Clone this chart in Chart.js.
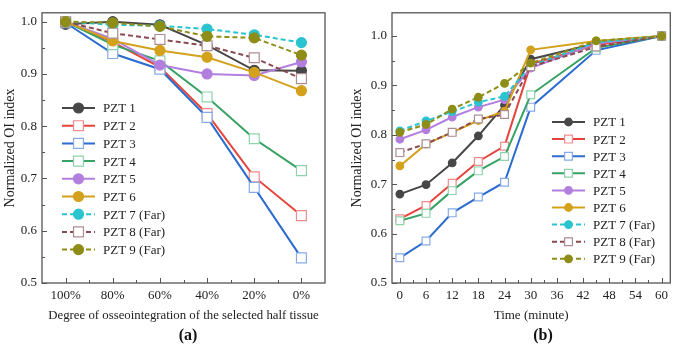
<!DOCTYPE html>
<html>
<head>
<meta charset="utf-8">
<script src="https://cdn.jsdelivr.net/npm/chart.js@4.4.1/dist/chart.umd.min.js"></script>
<style>
  html, body { margin: 0; padding: 0; background: #fff; }
  #wrap { position: relative; width: 677px; height: 345px; }
  #boxA { position: absolute; left: 0; top: 0; width: 340px; height: 345px; }
  #boxB { position: absolute; left: 340px; top: 0; width: 337px; height: 345px; }
</style>
</head>
<body>
<div id="wrap">
  <div id="boxA"><canvas id="chartA" width="340" height="345"></canvas></div>
  <div id="boxB"><canvas id="chartB" width="337" height="345"></canvas></div>
</div>
<script>
// noms des capteurs et axes
const sensores = ['PZT 1', 'PZT 2', 'PZT 3', 'PZT 4', 'PZT 5', 'PZT 6', 'PZT 7 (Far)', 'PZT 8 (Far)', 'PZT 9 (Far)'];
const grauLabels = ['100%', '80%', '60%', '40%', '20%', '0%'];
const tempoMin = [0, 6, 12, 18, 24, 30, 45, 60];
const tempoTicks = [0, 6, 12, 18, 24, 30, 36, 42, 48, 54, 60];
const yTicks = [0.5, 0.6, 0.7, 0.8, 0.9, 1.0];

// (a) indice OI x grau de osseointegracao
const a_pzt1 = [0.995, 1.000, 0.994, 0.955, 0.907, 0.906];
const a_pzt2 = [1.000, 0.961, 0.913, 0.824, 0.703, 0.629];
const a_pzt3 = [0.998, 0.939, 0.909, 0.817, 0.683, 0.548];
const a_pzt4 = [1.000, 0.956, 0.925, 0.856, 0.776, 0.715];
const a_pzt5 = [1.000, 0.967, 0.917, 0.900, 0.897, 0.923];
const a_pzt6 = [1.000, 0.963, 0.945, 0.932, 0.903, 0.868];
const a_pzt7 = [1.000, 0.994, 0.992, 0.986, 0.975, 0.960];
const a_pzt8 = [1.000, 0.978, 0.966, 0.954, 0.931, 0.891];
const a_pzt9 = [1.000, 0.998, 0.991, 0.972, 0.969, 0.936];

// (b) indice OI x tempo
const b_pzt1 = [0.680, 0.699, 0.743, 0.798, 0.860, 0.953, 0.985, 1.000];
const b_pzt2 = [0.630, 0.657, 0.702, 0.746, 0.777, 0.943, 0.982, 1.000];
const b_pzt3 = [0.551, 0.585, 0.642, 0.674, 0.704, 0.856, 0.971, 1.000];
const b_pzt4 = [0.626, 0.641, 0.687, 0.727, 0.756, 0.881, 0.976, 1.000];
const b_pzt5 = [0.791, 0.810, 0.836, 0.856, 0.871, 0.935, 0.985, 1.000];
const b_pzt6 = [0.737, 0.781, 0.805, 0.829, 0.848, 0.972, 0.990, 1.000];
const b_pzt7 = [0.808, 0.828, 0.847, 0.866, 0.878, 0.940, 0.987, 1.000];
const b_pzt8 = [0.764, 0.782, 0.805, 0.832, 0.841, 0.938, 0.978, 1.000];
const b_pzt9 = [0.805, 0.821, 0.852, 0.876, 0.904, 0.945, 0.990, 1.000];

const serieA = [a_pzt1, a_pzt2, a_pzt3, a_pzt4, a_pzt5, a_pzt6, a_pzt7, a_pzt8, a_pzt9];
const serieB = [b_pzt1, b_pzt2, b_pzt3, b_pzt4, b_pzt5, b_pzt6, b_pzt7, b_pzt8, b_pzt9];

// estilos
const corLinha = ['#474747', '#e5443d', '#2c6bcf', '#37a264', '#b27fdf', '#d4a11d', '#29c4cf', '#8a4a52', '#8d8d17'];
const corBorda = ['#474747', '#f08c8c', '#86abe6', '#8ed3ab', '#b27fdf', '#d4a11d', '#29c4cf', '#ad8d94', '#8d8d17'];
const marcador = ['circle', 'rect', 'rect', 'rect', 'circle', 'circle', 'circle', 'rect', 'circle'];
const tracejado = [false, false, false, false, false, false, true, true, true];

const FONTE = "'Liberation Serif', 'DejaVu Serif', serif";
const TXT = '#222';

function montaDatasets(series, toData, rCirc, rRect) {
    return series.map((vals, i) => ({
        label: sensores[i],
        data: toData(vals),
        borderColor: corLinha[i],
        borderWidth: 2,
        borderDash: tracejado[i] ? [5, 3] : [],
        pointStyle: marcador[i],
        pointRadius: marcador[i] === 'rect' ? rRect : rCirc,
        pointBackgroundColor: marcador[i] === 'rect' ? '#fff' : corLinha[i],
        pointBorderColor: corBorda[i],
        pointBorderWidth: 1.2,
        tension: 0,
        order: 9 - i
    }));
}

// moldura + ticks para dentro + legenda + rotulo (a)/(b)
const pluginMoldura = {
    id: 'moldura',
    afterDraw(chart, args, opts) {
        const ctx = chart.ctx;
        const a = chart.chartArea;
        const sx = chart.scales.x, sy = chart.scales.y;
        ctx.save();
        ctx.strokeStyle = '#555';
        ctx.lineWidth = 1.3;
        ctx.setLineDash([]);
        ctx.strokeRect(a.left, a.top, a.right - a.left, a.bottom - a.top);

        ctx.lineWidth = 1;
        ctx.beginPath();
        opts.xMajor.forEach(v => {
            const px = Math.round(sx.getPixelForValue(v)) + 0.5;
            ctx.moveTo(px, a.bottom); ctx.lineTo(px, a.bottom - 5);
        });
        opts.xMinor.forEach(v => {
            const px = Math.round(sx.getPixelForValue(v)) + 0.5;
            ctx.moveTo(px, a.bottom); ctx.lineTo(px, a.bottom - 3);
        });
        opts.yMajor.forEach(v => {
            const py = Math.round(sy.getPixelForValue(v)) + 0.5;
            ctx.moveTo(a.left, py); ctx.lineTo(a.left + 5, py);
        });
        opts.yMinor.forEach(v => {
            const py = Math.round(sy.getPixelForValue(v)) + 0.5;
            ctx.moveTo(a.left, py); ctx.lineTo(a.left + 3, py);
        });
        ctx.stroke();

        // legenda
        const L = opts.legenda;
        chart.data.datasets.forEach((ds, i) => {
            const y = L.y + i * L.dy;
            ctx.strokeStyle = ds.borderColor;
            ctx.lineWidth = 2;
            ctx.setLineDash(ds.borderDash);
            ctx.beginPath();
            ctx.moveTo(L.x, y); ctx.lineTo(L.x + L.len, y);
            ctx.stroke();
            ctx.setLineDash([]);
            const cx = L.x + L.len / 2;
            ctx.fillStyle = ds.pointBackgroundColor;
            ctx.strokeStyle = ds.pointBorderColor;
            ctx.lineWidth = 1.2;
            ctx.beginPath();
            if (ds.pointStyle === 'rect') {
                const s = ds.pointRadius * Math.SQRT1_2;
                ctx.rect(cx - s, y - s, 2 * s, 2 * s);
            } else {
                ctx.arc(cx, y, ds.pointRadius, 0, Math.PI * 2);
            }
            ctx.fill();
            ctx.stroke();
            ctx.fillStyle = TXT;
            ctx.font = L.fonte + 'px ' + FONTE;
            ctx.textAlign = 'left';
            ctx.textBaseline = 'middle';
            ctx.fillText(ds.label, L.x + L.len + L.gap, y + 1);
        });

        ctx.fillStyle = '#111';
        ctx.font = 'bold 16px ' + FONTE;
        ctx.textAlign = 'center';
        ctx.textBaseline = 'middle';
        ctx.fillText(opts.painel.texto, opts.painel.x, opts.painel.y);
        ctx.restore();
    }
};

function eixoY(largura, tituloPad) {
    return {
        min: 0.5,
        max: 1.017,
        afterBuildTicks: s => { s.ticks = yTicks.map(v => ({ value: v })); },
        afterFit: s => { s.width = largura; },
        grid: { display: false, drawTicks: false },
        border: { display: false },
        ticks: { color: TXT, font: { family: FONTE, size: 13 }, padding: 5, callback: v => v.toFixed(1) },
        title: { display: true, text: 'Normalized OI index', color: TXT, font: { family: FONTE, size: 14 }, padding: { top: tituloPad, bottom: 0 } }
    };
}

const yMinor = [0.55, 0.65, 0.75, 0.85, 0.95];

new Chart(document.getElementById('chartA'), {
    type: 'line',
    data: {
        labels: grauLabels,
        datasets: montaDatasets(serieA, v => v, 5, 7)
    },
    options: {
        responsive: false,
        animation: false,
        layout: { padding: { top: 3, right: 15, left: 0, bottom: 0 } },
        plugins: {
            legend: { display: false },
            tooltip: { enabled: false },
            moldura: {
                xMajor: [0, 1, 2, 3, 4, 5],
                xMinor: [0.5, 1.5, 2.5, 3.5, 4.5],
                yMajor: yTicks,
                yMinor: yMinor,
                legenda: { x: 62, y: 108, dy: 17.7, len: 33, gap: 8, fonte: 13 },
                painel: { texto: '(a)', x: 188, y: 336 }
            }
        },
        scales: {
            x: {
                type: 'category',
                offset: true,
                afterFit: s => { s.height = 62; },
                grid: { display: false, drawTicks: false },
                border: { display: false },
                ticks: { color: TXT, font: { family: FONTE, size: 13 }, padding: 5, maxRotation: 0, autoSkip: false },
                title: { display: true, text: 'Degree of osseointegration of the selected half tissue', color: TXT, font: { family: FONTE, size: 12.8 }, padding: { top: 0, bottom: 22 } }
            },
            y: eixoY(42, 2)
        }
    },
    plugins: [pluginMoldura]
});

new Chart(document.getElementById('chartB'), {
    type: 'line',
    data: {
        datasets: montaDatasets(serieB, v => tempoMin.map((t, k) => ({ x: t, y: v[k] })), 3.8, 5.5)
    },
    options: {
        responsive: false,
        animation: false,
        layout: { padding: { top: 3, right: 3, left: 0, bottom: 0 } },
        plugins: {
            legend: { display: false },
            tooltip: { enabled: false },
            moldura: {
                xMajor: tempoTicks,
                xMinor: tempoTicks.slice(0, -1).map(t => t + 3),
                yMajor: yTicks,
                yMinor: yMinor,
                legenda: { x: 212, y: 122, dy: 17.1, len: 33, gap: 8, fonte: 13 },
                painel: { texto: '(b)', x: 203, y: 336 }
            }
        },
        scales: {
            x: {
                type: 'linear',
                min: -1.8,
                max: 62,
                afterBuildTicks: s => { s.ticks = tempoTicks.map(v => ({ value: v })); },
                afterFit: s => { s.height = 62; },
                grid: { display: false, drawTicks: false },
                border: { display: false },
                ticks: { color: TXT, font: { family: FONTE, size: 13 }, padding: 5, maxRotation: 0, autoSkip: false, callback: v => v },
                title: { display: true, text: 'Time (minute)', color: TXT, font: { family: FONTE, size: 13 }, padding: { top: 0, bottom: 22 } }
            },
            y: Object.assign(eixoY(52, 9), { max: 1.047 })
        }
    },
    plugins: [pluginMoldura]
});
</script>
</body>
</html>
